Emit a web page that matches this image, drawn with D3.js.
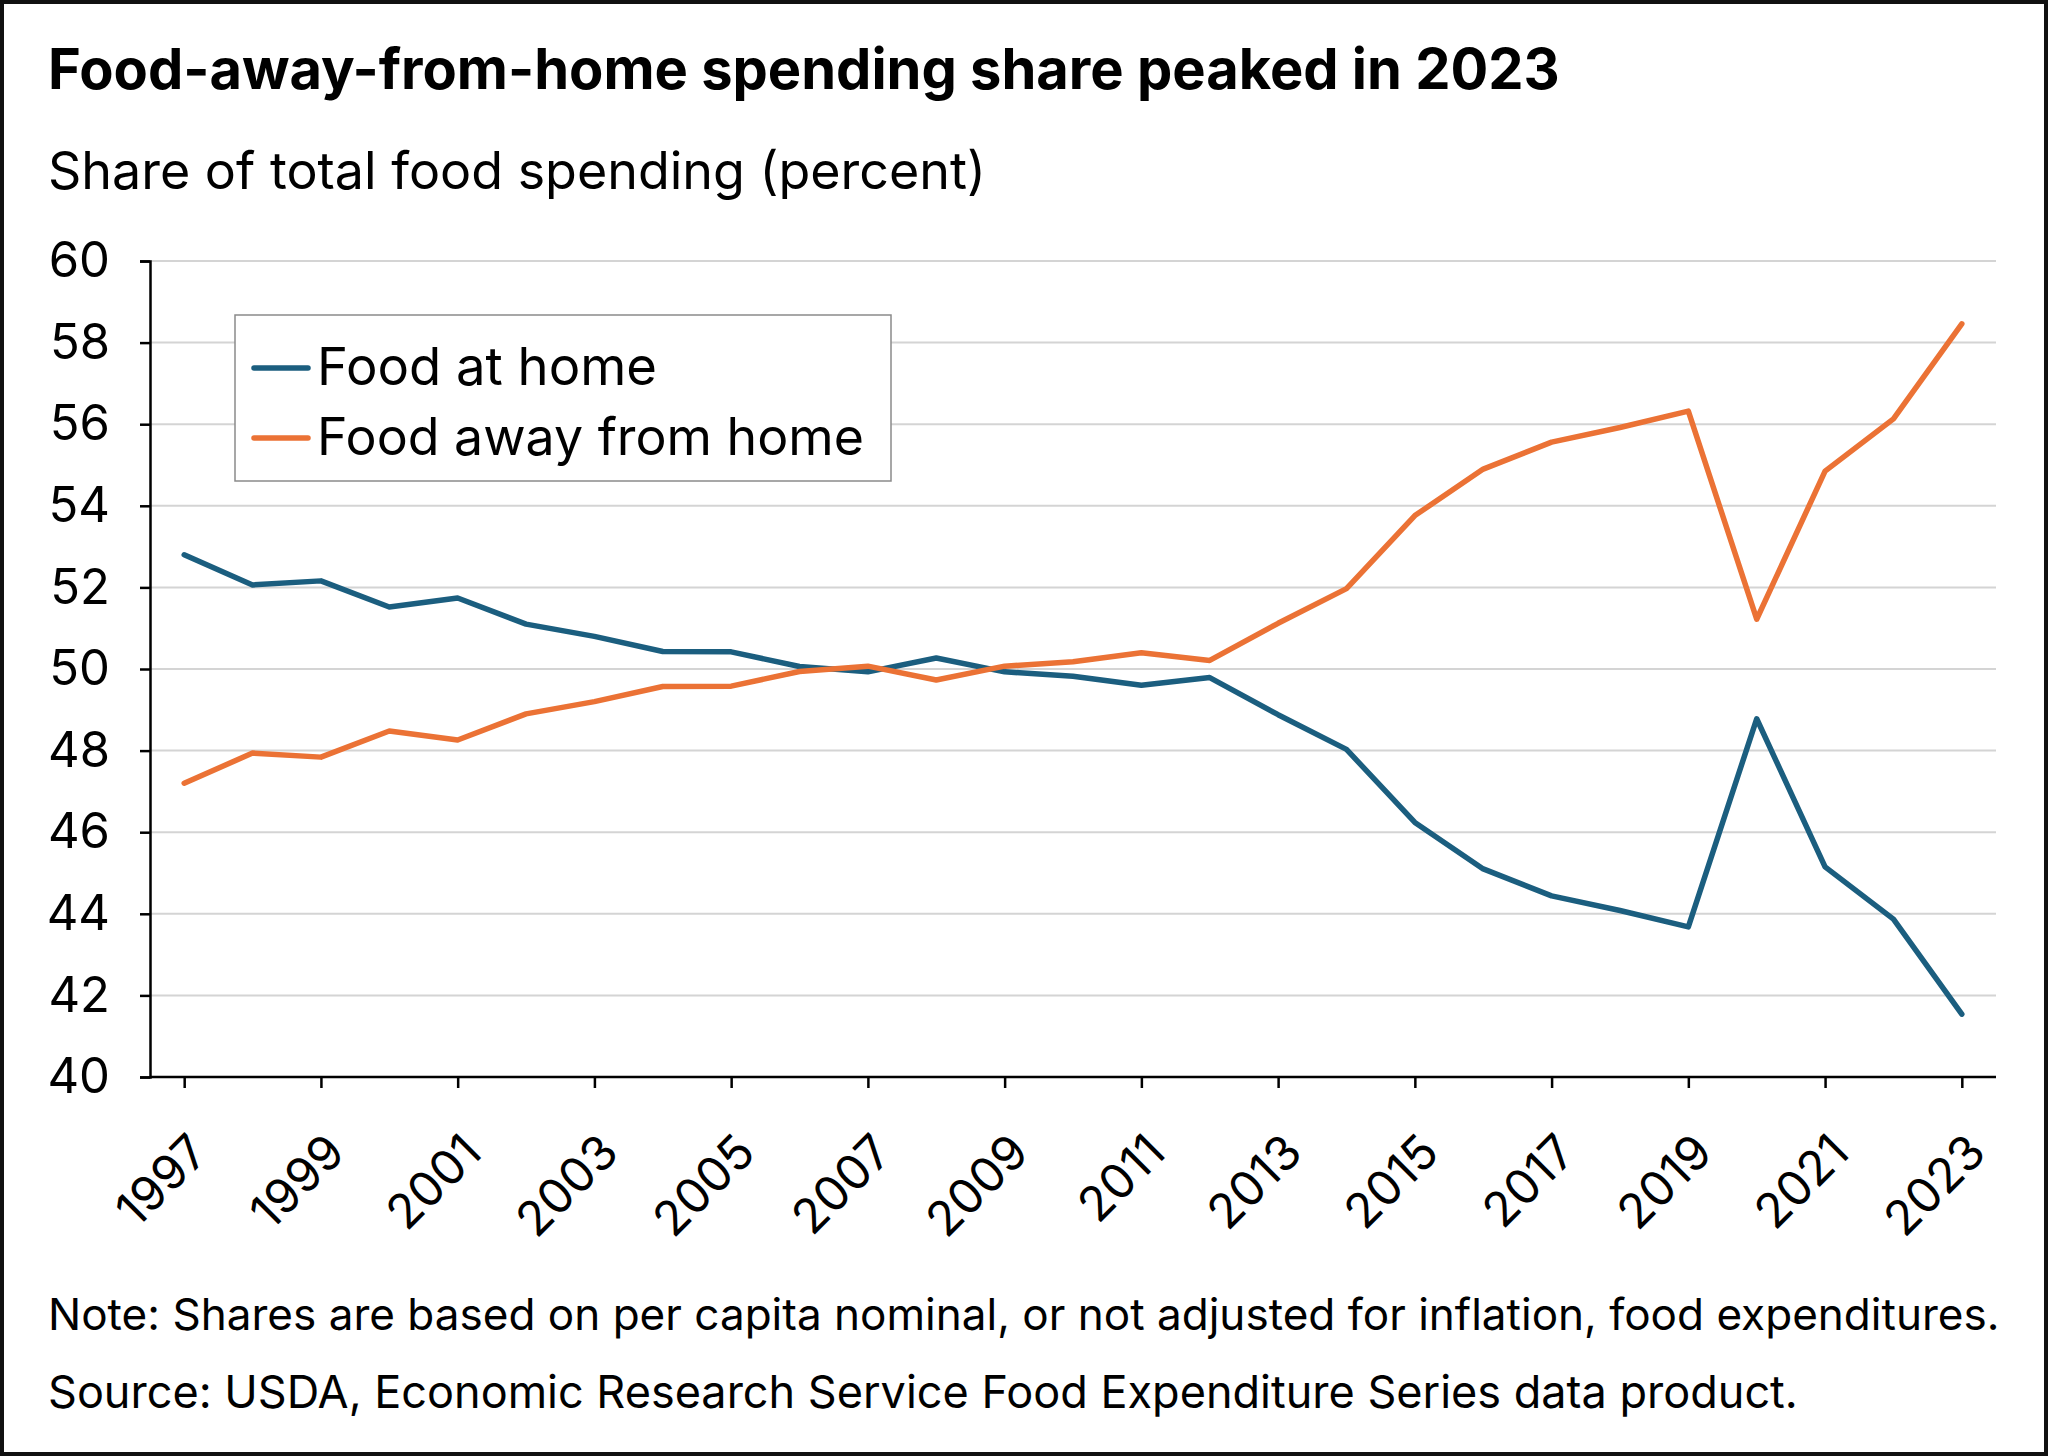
<!DOCTYPE html>
<html>
<head>
<meta charset="utf-8">
<script src="https://cdn.jsdelivr.net/npm/d3@7"></script>
<style>
  html, body { margin: 0; padding: 0; background: #fff; }
  svg { display: block; }
  text { font-family: Inter, "Noto Sans", sans-serif; fill: #000; }
</style>
</head>
<body>
<svg id="chart" width="2048" height="1456"></svg>
<script>
// ---- Data ----
const years = [1997,1998,1999,2000,2001,2002,2003,2004,2005,2006,2007,2008,2009,2010,
               2011,2012,2013,2014,2015,2016,2017,2018,2019,2020,2021,2022,2023];
const foodAtHome = [52.8,52.06,52.16,51.52,51.74,51.1,50.8,50.43,50.42,50.06,49.93,50.27,49.93,49.82,
                    49.6,49.79,48.88,48.03,46.24,45.1,44.44,44.08,43.68,48.78,45.15,43.87,41.54];
const foodAwayFromHome = [47.2,47.94,47.84,48.48,48.26,48.9,49.2,49.57,49.58,49.94,50.07,49.73,50.07,50.18,
                          50.4,50.21,51.12,51.97,53.76,54.9,55.56,55.92,56.32,51.22,54.85,56.13,58.46];
const seriesNames = ["Food at home", "Food away from home"];
const yTicks = [40,42,44,46,48,50,52,54,56,58,60];
const xTickYears = [1997,1999,2001,2003,2005,2007,2009,2011,2013,2015,2017,2019,2021,2023];
const titleText = "Food-away-from-home spending share peaked in 2023";
const subtitleText = "Share of total food spending (percent)";
const noteText = "Note: Shares are based on per capita nominal, or not adjusted for inflation, food expenditures.";
const sourceText = "Source: USDA, Economic Research Service Food Expenditure Series data product.";

// ---- Layout ----
const W = 2048, H = 1456;
const plot = { left: 150, right: 1996, top: 261, bottom: 1077 };
const colors = ["#1b5e7f", "#eb7235"];

const svg = d3.select("#chart");

// Outer frame
svg.append("rect").attr("x", 2).attr("y", 2).attr("width", W - 4).attr("height", H - 4)
  .attr("fill", "#fff").attr("stroke", "#111").attr("stroke-width", 4);

function fitText(sel, target) {
  const node = sel.node();
  let fs = parseFloat(sel.attr("font-size"));
  for (let i = 0; i < 4; i++) {
    const w = node.getComputedTextLength();
    fs = fs * target / w;
    sel.attr("font-size", fs);
  }
}

// Title & subtitle
const title = svg.append("text").attr("x", 48).attr("y", 89)
  .attr("font-size", 54).attr("font-weight", 700).text(titleText);
fitText(title, 1512);
const sub = svg.append("text").attr("x", 48).attr("y", 189)
  .attr("font-size", 48).text(subtitleText);
fitText(sub, 938);

// Scales
const x = d3.scaleLinear().domain([1996.5, 2023.5]).range([plot.left, plot.right]);
const y = d3.scaleLinear().domain([40, 60]).range([plot.bottom, plot.top]);

// Gridlines
svg.append("g").selectAll("line").data(yTicks.filter(d => d > 40)).join("line")
  .attr("x1", plot.left).attr("x2", plot.right)
  .attr("y1", d => y(d)).attr("y2", d => y(d))
  .attr("stroke", "#d4d4d4").attr("stroke-width", 2);

// Y axis
const yAxis = svg.append("g").attr("transform", `translate(${plot.left},0)`)
  .call(d3.axisLeft(y).tickValues(yTicks).tickSize(10).tickPadding(30).tickFormat(d3.format("d")));
yAxis.select(".domain").attr("stroke", "#000").attr("stroke-width", 2.5);
yAxis.selectAll(".tick line").attr("stroke", "#000").attr("stroke-width", 2.5);
yAxis.selectAll(".tick text").attr("font-size", 49).attr("font-family", "Inter, sans-serif").attr("fill", "#000");

// X axis
const xAxis = svg.append("g").attr("transform", `translate(0,${plot.bottom})`)
  .call(d3.axisBottom(x).tickValues(xTickYears).tickSize(11).tickSizeOuter(0).tickFormat(d3.format("d")));
xAxis.select(".domain").attr("stroke", "#000").attr("stroke-width", 2.5)
  .attr("d", `M${plot.left},0H${plot.right}`);
xAxis.selectAll(".tick line").attr("stroke", "#000").attr("stroke-width", 2.5);
xAxis.selectAll(".tick text")
  .attr("font-size", 48).attr("font-family", "Inter, sans-serif").attr("fill", "#000")
  .attr("text-anchor", "end").attr("dy", null).attr("y", null)
  .attr("transform", "translate(26,78) rotate(-45)");

// Lines
const line = d3.line().x((d, i) => x(years[i])).y(d => y(d));
[foodAtHome, foodAwayFromHome].forEach((s, k) => {
  svg.append("path").datum(s).attr("d", line)
    .attr("fill", "none").attr("stroke", colors[k]).attr("stroke-width", 5.5)
    .attr("stroke-linejoin", "round").attr("stroke-linecap", "round");
});

// Legend
const lg = svg.append("g");
lg.append("rect").attr("x", 235).attr("y", 315).attr("width", 656).attr("height", 166)
  .attr("fill", "#fff").attr("stroke", "#8a8a8a").attr("stroke-width", 1.5);
const legendY = [368, 438];
const legendTargets = [340, 547];
seriesNames.forEach((name, k) => {
  lg.append("line").attr("x1", 254).attr("x2", 308).attr("y1", legendY[k]).attr("y2", legendY[k])
    .attr("stroke", colors[k]).attr("stroke-width", 5.5).attr("stroke-linecap", "round");
  const t = lg.append("text").attr("x", 317).attr("y", legendY[k] + 17)
    .attr("font-size", 50).text(name);
  fitText(t, legendTargets[k]);
});

// Note & source
const note = svg.append("text").attr("x", 48).attr("y", 1330).attr("font-size", 40).text(noteText);
fitText(note, 1952);
const src = svg.append("text").attr("x", 48).attr("y", 1408).attr("font-size", 40).text(sourceText);
fitText(src, 1750);
</script>
</body>
</html>
